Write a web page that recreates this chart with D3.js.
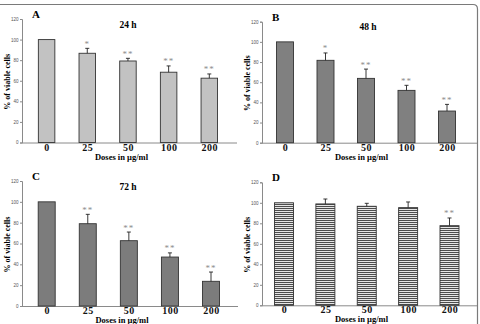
<!DOCTYPE html>
<html>
<head>
<meta charset="utf-8">
<script src="https://cdn.jsdelivr.net/npm/d3@7"></script>
<style>
  body { margin: 0; background: #fff; }
  svg { display: block; }
</style>
</head>
<body>
<svg class="fig"></svg>
<script>
// data
const doses = ['0', '25', '50', '100', '200'];
const yTicks = [0, 20, 40, 60, 80, 100, 120];

const mean24 = [100, 86.7, 79.2, 68.3, 62.5];
const err24 = [0, 4.8, 2.6, 6.1, 4.1];
const sig24 = ['', '*', '**', '**', '**'];

const mean48 = [100, 81.7, 63.8, 51.9, 31.4];
const err48 = [0, 7.3, 9.2, 5.0, 6.6];
const sig48 = ['', '*', '**', '**', '**'];

const mean72 = [100, 79, 62.7, 47, 23.7];
const err72 = [0, 9, 8.3, 4, 8.9];
const sig72 = ['', '**', '**', '**', '**'];

const meanD = [100, 98.9, 96.6, 95.3, 77.7];
const errD = [0, 4.8, 2.9, 5.5, 7.5];
const sigD = ['', '', '', '', '**'];

const svg = d3.select('.fig')
  .attr('width', 480)
  .attr('height', 324)

const serif = "'Liberation Serif', 'Times New Roman', serif";

// striped fill for panel D
const pat = svg.append('defs').append('pattern')
  .attr('id', 'stripes')
  .attr('patternUnits', 'userSpaceOnUse')
  .attr('width', 4).attr('height', 2)
pat.append('rect').attr('width', 4).attr('height', 2).attr('fill', '#e6e6e6')
pat.append('rect').attr('width', 4).attr('height', 1).attr('fill', '#4d4d4d')

// frame around the figure
svg.append('path')
  .attr('d', 'M0,4.5 H473 Q477.5,4.5 477.5,9 V324')
  .attr('fill', 'none')
  .attr('stroke', '#7a7a7a')
  .attr('stroke-width', 1.2)

function panel(cfg) {
  const g = svg.append('g')

  const data = doses.map((d, i) => ({dose: d, mean: cfg.mean[i], err: cfg.err[i], sig: cfg.sig[i]}))

  //scale
  const xScale = d3.scalePoint()
    .domain(doses)
    .range(cfg.xr)

  const yScale = d3.scaleLinear()
    .domain([0, 120])
    .range([cfg.y0, cfg.y120])

  //axes
  const yAxis = d3.axisLeft(yScale)
    .tickValues(yTicks)
    .tickSize(2)
    .tickPadding(1.5)

  const yAxisG = g.append('g')
    .attr('transform', `translate(${cfg.ax}, 0)`)
    .call(yAxis)
  yAxisG.select('.domain').attr('stroke', '#8a8a8a')
  yAxisG.selectAll('line').attr('stroke', '#8a8a8a')
  yAxisG.selectAll('text')
    .attr('font-family', 'Arial, sans-serif')
    .attr('font-size', 4.5)
    .attr('fill', '#555')

  const xAxis = d3.axisBottom(xScale).tickSize(0).tickPadding(1)
  const xAxisG = g.append('g')
    .attr('transform', `translate(0, ${cfg.y0})`)
    .call(xAxis)
  xAxisG.select('.domain')
    .attr('d', `M${cfg.ax},0.5H${cfg.xEnd}`)
    .attr('stroke', '#8a8a8a')
  xAxisG.selectAll('text')
    .attr('font-family', serif)
    .attr('font-weight', 'bold')
    .attr('font-size', 10)
    .attr('letter-spacing', 0.5)
    .attr('fill', '#111')

  //bars
  g.selectAll('rect.bar')
    .data(data)
    .enter()
    .append('rect')
    .attr('class', 'bar')
    .attr('x', d => xScale(d.dose) - cfg.bw / 2)
    .attr('y', d => yScale(d.mean))
    .attr('width', cfg.bw)
    .attr('height', d => yScale(0) - yScale(d.mean))
    .attr('fill', cfg.fill)
    .attr('stroke', '#333')
    .attr('stroke-width', 0.9)

  //error bars (upper half only)
  const eb = g.selectAll('g.err')
    .data(data.filter(d => d.err > 0))
    .enter()
    .append('g')
  eb.append('line')
    .attr('x1', d => xScale(d.dose)).attr('x2', d => xScale(d.dose))
    .attr('y1', d => yScale(d.mean)).attr('y2', d => yScale(d.mean + d.err))
    .attr('stroke', '#222').attr('stroke-width', 0.9)
  eb.append('line')
    .attr('x1', d => xScale(d.dose) - 2).attr('x2', d => xScale(d.dose) + 2)
    .attr('y1', d => yScale(d.mean + d.err)).attr('y2', d => yScale(d.mean + d.err))
    .attr('stroke', '#222').attr('stroke-width', 0.9)

  //significance stars
  g.selectAll('text.sig')
    .data(data.filter(d => d.sig))
    .enter()
    .append('text')
    .attr('class', 'sig')
    .attr('x', d => xScale(d.dose))
    .attr('y', d => yScale(d.mean + d.err) - 1.5)
    .attr('text-anchor', 'middle')
    .attr('font-family', serif)
    .attr('font-size', 9)
    .attr('fill', '#8c8c8c')
    .attr('letter-spacing', 1)
    .text(d => d.sig)

  //labels
  g.append('text')
    .attr('x', cfg.ax + 10)
    .attr('y', cfg.y120 - 1)
    .attr('font-family', serif)
    .attr('font-weight', 'bold')
    .attr('font-size', 11)
    .text(cfg.letter)

  if (cfg.title) {
    g.append('text')
      .attr('x', cfg.ax + 106)
      .attr('y', cfg.y120 + 8.5)
      .attr('text-anchor', 'middle')
      .attr('font-family', serif)
      .attr('font-weight', 'bold')
      .attr('font-size', 9.5)
      .text(cfg.title)
  }

  g.append('text')
    .attr('x', (cfg.ax + cfg.xEnd) / 2 - 8)
    .attr('y', cfg.y0 + 17)
    .attr('text-anchor', 'middle')
    .attr('font-family', serif)
    .attr('font-weight', 'bold')
    .attr('font-size', 8.5)
    .text('Doses in µg/ml')

  g.append('text')
    .attr('transform', `translate(${cfg.ax - 12}, ${(cfg.y0 + cfg.y120) / 2 + 1}) rotate(-90)`)
    .attr('text-anchor', 'middle')
    .attr('font-family', serif)
    .attr('font-weight', 'bold')
    .attr('font-size', 8)
    .text('% of viable cells')
}

panel({letter: 'A', title: '24 h', mean: mean24, err: err24, sig: sig24,
  ax: 22, xEnd: 237, y0: 142.5, y120: 19, xr: [46.6, 209.3], bw: 16.5, fill: '#c2c2c2'})
panel({letter: 'B', title: '48 h', mean: mean48, err: err48, sig: sig48,
  ax: 262, xEnd: 477, y0: 142.7, y120: 21.7, xr: [285, 447], bw: 17, fill: '#808080'})
panel({letter: 'C', title: '72 h', mean: mean72, err: err72, sig: sig72,
  ax: 22, xEnd: 238, y0: 306, y120: 181, xr: [46.7, 211], bw: 17, fill: '#7c7c7c'})
panel({letter: 'D', title: '', mean: meanD, err: errD, sig: sigD,
  ax: 262, xEnd: 477, y0: 305.3, y120: 182.3, xr: [284, 449.5], bw: 19, fill: 'url(#stripes)'})
</script>
</body>
</html>
